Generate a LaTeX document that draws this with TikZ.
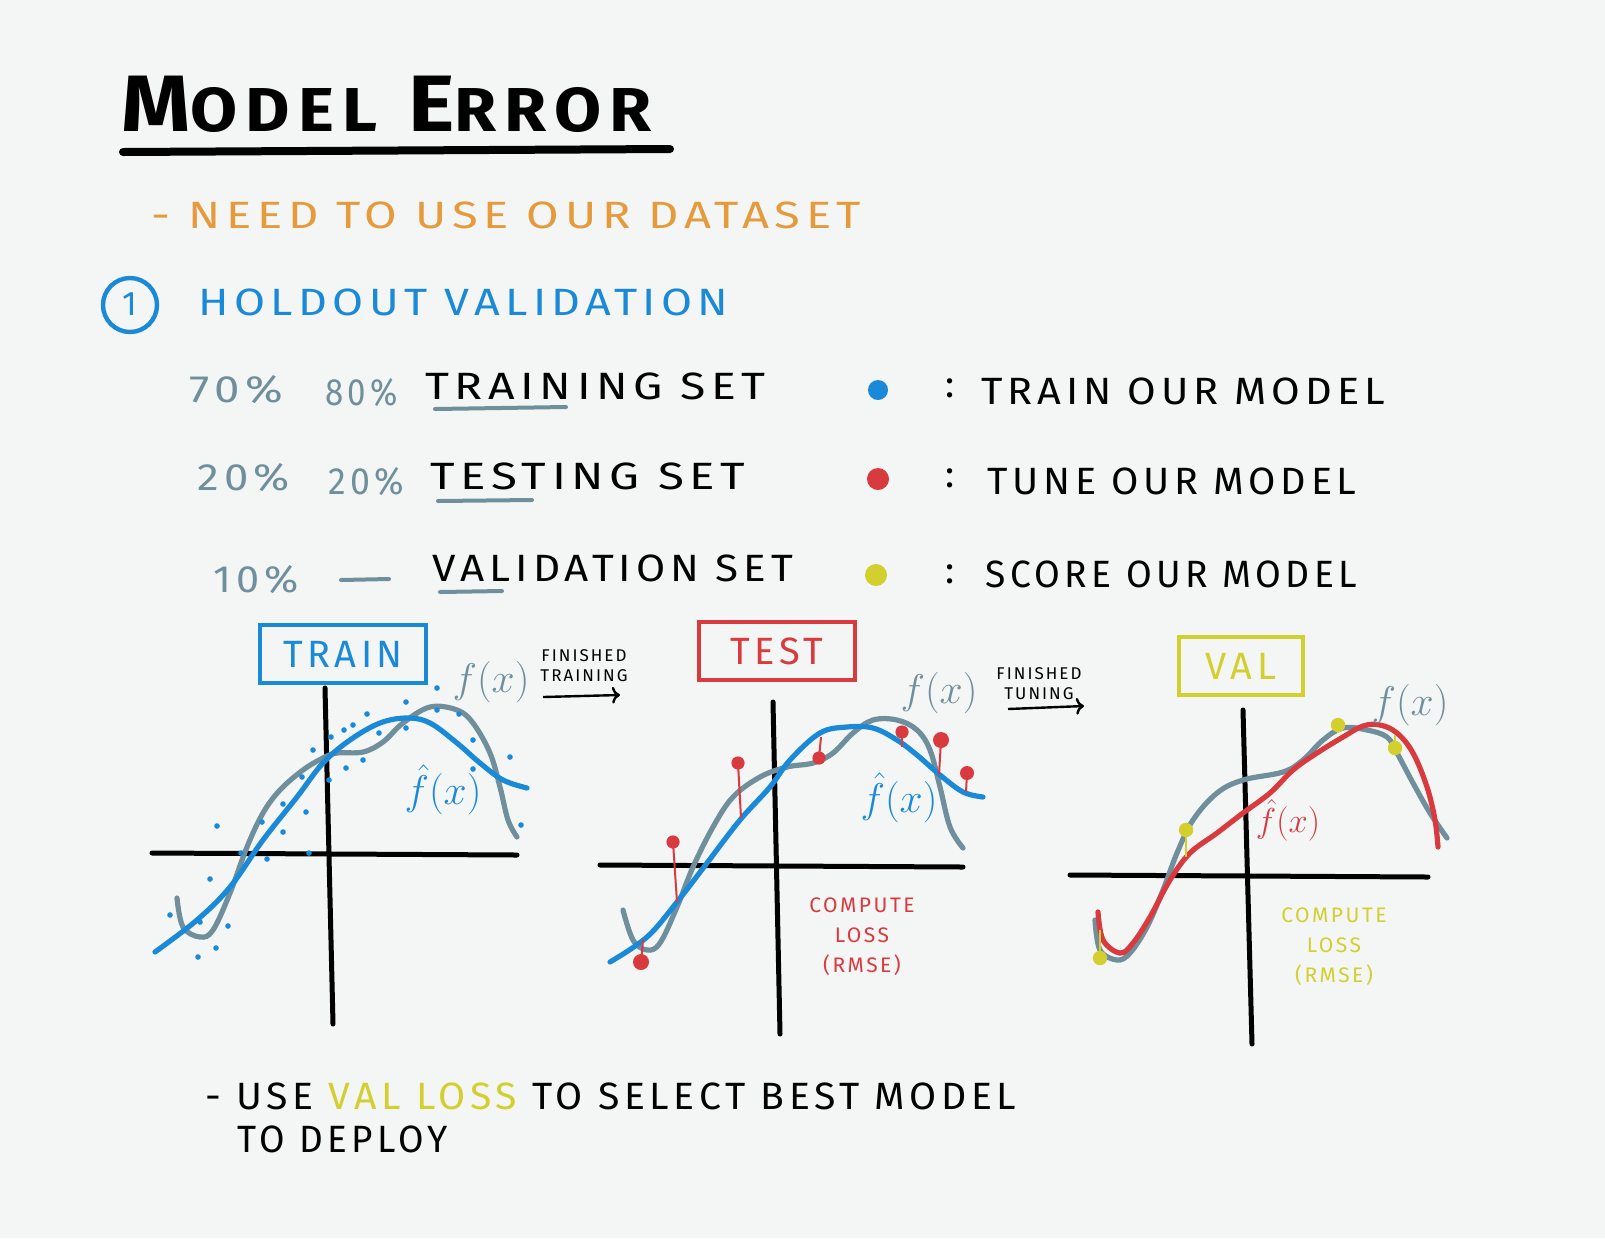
\documentclass[tikz,border=0pt]{standalone}
\usepackage{fontspec}
\usepackage{amsmath}
\usepackage{graphicx}
\usepackage{xcolor}
\usetikzlibrary{arrows.meta}
\setmainfont{Fira Sans}
\newfontfamily\hand[LetterSpace=12]{Fira Sans}
\definecolor{paper}{HTML}{F4F5F5}
\definecolor{penblue}{HTML}{1A8AD8}
\definecolor{penred}{HTML}{D93A3E}
\definecolor{penyellow}{HTML}{D2CF2E}
\definecolor{slate}{HTML}{6F8F9C}
\definecolor{penorange}{HTML}{E59A3C}
\newcommand{\wide}[2]{\scalebox{#1}[1]{#2}}

\begin{document}
\begin{tikzpicture}[x=0.5pt, y=-0.5pt,
  every node/.style={inner sep=0pt},
  rowtext/.style={anchor=west, font=\hand\fontsize{19}{19}\selectfont},
  pct/.style={anchor=west, text=slate, font=\hand\fontsize{19}{19}\selectfont},
  small/.style={font=\hand\fontsize{8.5}{10}\selectfont, align=center},
  axis/.style={line width=2.5pt, line cap=round},
  truecurve/.style={slate, line width=2.6pt, line cap=round},
  fitcurve/.style={line width=2.6pt, line cap=round},
  tagbox/.style={draw, line width=2.2pt, minimum width=#1, minimum height=29pt, font=\hand\fontsize{19}{19}\selectfont},
  fx/.style={text=slate, font=\fontsize{20}{20}\selectfont},
  fhat/.style={font=\fontsize{20}{20}\selectfont},
  lolly/.style={line width=1pt}]

\useasboundingbox (0,0) rectangle (1605,1238);
\fill[paper] (0,0) rectangle (1605,1238);

% title
\node[anchor=west, font=\hand\bfseries] (title) at (121,104)
  {\wide{1.1}{{\fontsize{40}{40}\selectfont M}{\fontsize{31}{31}\selectfont ODEL}\hspace{14pt}{\fontsize{40}{40}\selectfont E}{\fontsize{31}{31}\selectfont RROR}}};
\draw[line width=4pt, line cap=round] (123,152) -- (670,149);

\node[rowtext, text=penorange] (need) at (151,215) {\wide{1.24}{- NEED TO USE OUR DATASET}};

% holdout
\draw[penblue, line width=2.2pt] (130,305) circle [radius=13.5pt];
\node[text=penblue, font=\hand\fontsize{17}{17}\selectfont] (one) at (130,304) {1};
\node[rowtext, text=penblue] (holdout) at (198,302) {\wide{1.18}{HOLDOUT VALIDATION}};

% split table
\node[pct] (p70) at (189,390) {\wide{1.2}{70\%}};
\node[pct] (p80) at (325,393) {\wide{0.87}{80\%}};
\node[rowtext] (trainset) at (425,386) {\wide{1.22}{TRAINING SET}};
\draw[slate, line width=2pt, line cap=round] (435,409) -- (566,407);
\fill[penblue] (878,390) circle [radius=5pt];
\node[rowtext] (c1) at (945,388) {:};
\node[rowtext] (trainuse) at (981,391) {\wide{1.09}{TRAIN OUR MODEL}};

\node[pct] (p20a) at (197,478) {\wide{1.15}{20\%}};
\node[pct] (p20b) at (328,482) {\wide{0.94}{20\%}};
\node[rowtext] (testset) at (430,476) {\wide{1.25}{TESTING SET}};
\draw[slate, line width=2pt, line cap=round] (438,501) -- (532,500);
\fill[penred] (878,479) circle [radius=5.5pt];
\node[rowtext] (c2) at (945,478) {:};
\node[rowtext] (testuse) at (987,481) {\wide{1.04}{TUNE OUR MODEL}};

\node[pct] (p10) at (213,580) {\wide{1.09}{10\%}};
\draw[slate, line width=2pt, line cap=round] (341,580) -- (389,579);
\node[rowtext] (valset) at (432,568) {\wide{1.11}{VALIDATION SET}};
\draw[slate, line width=2pt, line cap=round] (440,592) -- (502,591);
\fill[penyellow] (876,575) circle [radius=5.5pt];
\node[rowtext] (c3) at (945,574) {:};
\node[rowtext] (valuse) at (985,574) {\wide{0.98}{SCORE OUR MODEL}};

% ---- train chart
\node[tagbox=83pt, draw=penblue, text=penblue] (trainbox) at (343,654) {TRAIN};
\draw[axis] (325,688) -- (333,1024);
\draw[axis] (152,853) -- (517,855);
\draw[truecurve] plot[smooth, tension=0.6] coordinates {(177,898) (183,927) (200,937) (213,930) (230,893) (247,847) (263,813) (280,790) (303,770) (323,758) (337,753) (363,752) (383,742) (403,723) (430,707) (457,710) (473,723) (490,753) (500,787) (508,820) (517,837)};
\draw[fitcurve, penblue] plot[smooth, tension=0.6] coordinates {(155,952) (197,920) (230,887) (263,840) (297,797) (323,763) (350,740) (380,723) (407,718) (430,723) (457,743) (480,763) (503,780) (527,788)};
\foreach \p in {(437,688),(406,702),(367,714),(353,725),(344,730),(331,737),(379,733),(406,728),(437,710),(459,714),(473,740),(510,757),(473,769),(313,750),(329,780),(346,768),(363,760),(302,777),(283,804),(262,822),(283,832),(306,812),(217,826),(267,859),(309,853),(241,853),(210,879),(170,915),(200,922),(228,926),(216,948),(198,957),(521,825)}
  \fill[penblue] \p circle [radius=1.4pt];
\node[fx] (fx1) at (491,682) {$f(x)$};
\node[fhat, text=penblue] (fh1) at (443,790) {$\hat{f}(x)$};

% arrow train -> test
\node[small] (fin1) at (584,666) {FINISHED\\TRAINING};
\coordinate (a1s) at (543,697);
\coordinate (a1e) at (620,695);
\draw[-{To[length=4pt]}, line width=1.2pt] (a1s) -- (a1e);

% ---- test chart
\node[tagbox=78pt, draw=penred, text=penred] (testbox) at (777,651) {TEST};
\draw[axis] (773,702) -- (780,1034);
\draw[axis] (600,865) -- (963,867);
\draw[truecurve] plot[smooth, tension=0.6] coordinates {(623,910) (633,940) (647,950) (660,943) (677,907) (693,867) (713,827) (733,797) (760,777) (787,767) (813,763) (833,753) (853,733) (873,720) (897,720) (917,730) (930,750) (940,787) (950,827) (963,848)};
\draw[fitcurve, penblue] plot[smooth, tension=0.6] coordinates {(610,962) (647,937) (677,902) (707,863) (740,820) (770,787) (790,760) (820,733) (847,727) (873,728) (897,740) (917,755) (940,775) (963,792) (983,797)};
\foreach \d/\e/\r in {{(641,962)}/{(643,940)}/4, {(673,842)}/{(677,902)}/3.3, {(738,763)}/{(741,818)}/3.3, {(819,758)}/{(821,737)}/3.3, {(902,732)}/{(902,747)}/3.3, {(941,740)}/{(939,775)}/4, {(967,773)}/{(966,792)}/3.5}{
  \draw[lolly, penred] \d -- \e;
  \fill[penred] \d circle [radius=\r pt];
}
\node[fx] (fx2) at (939,693) {$f(x)$};
\node[fhat, text=penblue] (fh2) at (899,798) {$\hat{f}(x)$};
\node[small, text=penred, font=\hand\fontsize{10.5}{15}\selectfont] (loss2) at (862,937) {COMPUTE\\LOSS\\(RMSE)};

% arrow test -> val
\node[small] (fin2) at (1039,684) {FINISHED\\TUNING};
\coordinate (a2s) at (1008,709);
\coordinate (a2e) at (1084,706);
\draw[-{To[length=4pt]}, line width=1.2pt] (a2s) -- (a2e);

% ---- val chart
\node[tagbox=62pt, draw=penyellow, text=penyellow] (valbox) at (1241,666) {VAL};
\draw[axis] (1243,710) -- (1252,1044);
\draw[axis] (1070,875) -- (1428,877);
\draw[truecurve] plot[smooth, tension=0.6] coordinates {(1095,920) (1100,950) (1117,960) (1130,953) (1147,927) (1163,890) (1177,853) (1193,820) (1217,793) (1243,780) (1283,772) (1303,760) (1323,740) (1343,728) (1367,730) (1387,737) (1397,753) (1413,783) (1430,813) (1447,838)};
\draw[fitcurve, penred] plot[smooth, tension=0.6] coordinates {(1098,912) (1103,940) (1120,953) (1133,943) (1150,917) (1170,880) (1190,853) (1217,833) (1243,813) (1270,793) (1293,770) (1317,753) (1343,737) (1363,726) (1380,725) (1397,733) (1413,753) (1427,787) (1435,820) (1438,847)};
\foreach \d/\e in {{(1100,958)}/{(1100,930)}, {(1186,830)}/{(1186,857)}, {(1338,725)}/{(1338,733)}, {(1395,748)}/{(1395,735)}}{
  \draw[lolly, penyellow] \d -- \e;
  \fill[penyellow] \d circle [radius=3.6pt];
}
\node[fx] (fx3) at (1410,705) {$f(x)$};
\node[fhat, text=penred, font=\fontsize{16}{16}\selectfont] (fh3) at (1288,820) {$\hat{f}(x)$};
\node[small, text=penyellow, font=\hand\fontsize{10.5}{15}\selectfont] (loss3) at (1334,947) {COMPUTE\\LOSS\\(RMSE)};

% conclusion
\node[rowtext] (concl) at (205,1096) {\wide{1.03}{- USE \textcolor{penyellow}{VAL LOSS} TO SELECT BEST MODEL}};
\node[rowtext] (deploy) at (237,1139) {\wide{0.97}{TO DEPLOY}};
\end{tikzpicture}
\end{document}
